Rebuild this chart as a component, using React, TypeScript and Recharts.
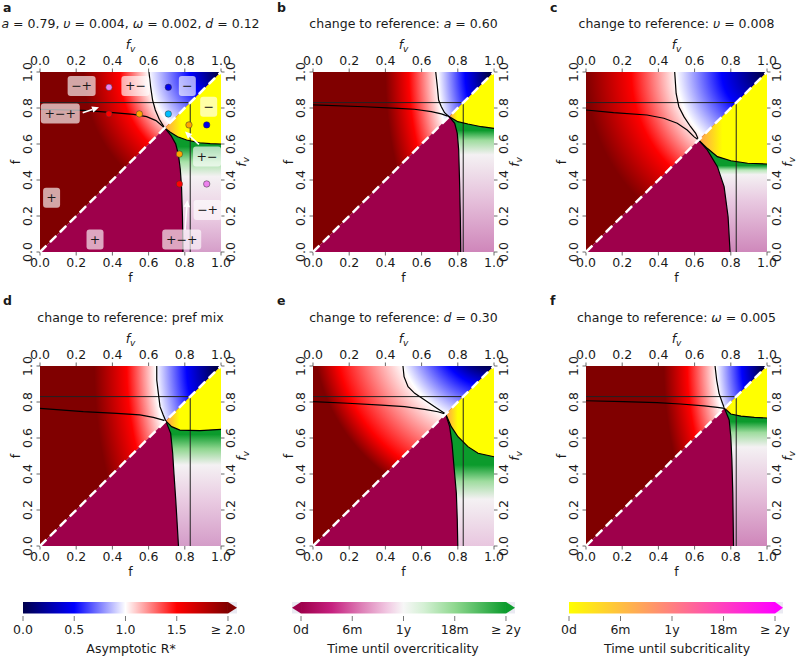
import React from 'react';
import { ComposedChart, ReferenceArea, Scatter, XAxis, YAxis } from 'recharts';

type Pt = { x: number; y: number };

// shared axis values
const axisTicks = [0, 0.2, 0.4, 0.6, 0.8, 1.0];
const refLevel = 0.83;

// contour lines (all start or end at the junction on the diagonal)
// upper*: R* = 1 line, side*: line from the left edge, sub*: lower edge of the
// subcritical (yellow) zone, over*: edge of the overcritical (magenta) zone
const upperA: Pt[] = [{ x: 0.602, y: 1 }, { x: 0.611, y: 0.919 }, { x: 0.622, y: 0.844 }, { x: 0.637, y: 0.789 }, { x: 0.659, y: 0.737 }, { x: 0.689, y: 0.689 }];
const sideA: Pt[] = [{ x: 0, y: 0.793 }, { x: 0.239, y: 0.787 }, { x: 0.387, y: 0.776 }, { x: 0.516, y: 0.765 }, { x: 0.589, y: 0.752 }, { x: 0.641, y: 0.73 }, { x: 0.689, y: 0.689 }];
const subA: Pt[] = [{ x: 0.689, y: 0.689 }, { x: 0.72, y: 0.665 }, { x: 0.76, y: 0.64 }, { x: 0.81, y: 0.622 }, { x: 0.88, y: 0.607 }, { x: 0.94, y: 0.602 }, { x: 1, y: 0.6 }];
const overA: Pt[] = [{ x: 0.689, y: 0.689 }, { x: 0.725, y: 0.645 }, { x: 0.75, y: 0.6 }, { x: 0.765, y: 0.54 }, { x: 0.775, y: 0.46 }, { x: 0.782, y: 0.36 }, { x: 0.787, y: 0.2 }, { x: 0.79, y: 0 }];

const upperB: Pt[] = [{ x: 0.678, y: 1 }, { x: 0.687, y: 0.918 }, { x: 0.694, y: 0.844 }, { x: 0.709, y: 0.807 }, { x: 0.727, y: 0.774 }, { x: 0.752, y: 0.752 }];
const sideB: Pt[] = [{ x: 0, y: 0.817 }, { x: 0.285, y: 0.807 }, { x: 0.47, y: 0.798 }, { x: 0.56, y: 0.793 }, { x: 0.654, y: 0.78 }, { x: 0.709, y: 0.767 }, { x: 0.752, y: 0.752 }];
const subB: Pt[] = [{ x: 0.752, y: 0.752 }, { x: 0.8, y: 0.724 }, { x: 0.856, y: 0.711 }, { x: 0.93, y: 0.696 }, { x: 1, y: 0.687 }];
const overB: Pt[] = [{ x: 0.752, y: 0.752 }, { x: 0.783, y: 0.715 }, { x: 0.797, y: 0.659 }, { x: 0.805, y: 0.567 }, { x: 0.81, y: 0.381 }, { x: 0.814, y: 0.19 }, { x: 0.816, y: 0 }];

const upperC: Pt[] = [{ x: 0.49, y: 1 }, { x: 0.498, y: 0.881 }, { x: 0.513, y: 0.807 }, { x: 0.541, y: 0.752 }, { x: 0.578, y: 0.696 }, { x: 0.606, y: 0.659 }, { x: 0.622, y: 0.622 }];
const sideC: Pt[] = [{ x: 0, y: 0.789 }, { x: 0.152, y: 0.774 }, { x: 0.337, y: 0.761 }, { x: 0.43, y: 0.743 }, { x: 0.504, y: 0.715 }, { x: 0.559, y: 0.678 }, { x: 0.596, y: 0.641 }, { x: 0.622, y: 0.622 }];
const subC: Pt[] = [{ x: 0.622, y: 0.622 }, { x: 0.67, y: 0.576 }, { x: 0.726, y: 0.53 }, { x: 0.8, y: 0.507 }, { x: 0.893, y: 0.493 }, { x: 1, y: 0.489 }];
const overC: Pt[] = [{ x: 0.622, y: 0.622 }, { x: 0.67, y: 0.567 }, { x: 0.726, y: 0.474 }, { x: 0.763, y: 0.363 }, { x: 0.785, y: 0.196 }, { x: 0.796, y: 0 }];

const upperD: Pt[] = [{ x: 0.645, y: 1 }, { x: 0.645, y: 0.922 }, { x: 0.654, y: 0.848 }, { x: 0.663, y: 0.774 }, { x: 0.681, y: 0.728 }, { x: 0.695, y: 0.695 }];
const sideD: Pt[] = [{ x: 0, y: 0.765 }, { x: 0.239, y: 0.746 }, { x: 0.424, y: 0.737 }, { x: 0.552, y: 0.728 }, { x: 0.626, y: 0.715 }, { x: 0.695, y: 0.695 }];
const subD: Pt[] = [{ x: 0.695, y: 0.695 }, { x: 0.727, y: 0.663 }, { x: 0.773, y: 0.644 }, { x: 0.884, y: 0.641 }, { x: 1, y: 0.648 }];
const overD: Pt[] = [{ x: 0.695, y: 0.695 }, { x: 0.722, y: 0.626 }, { x: 0.733, y: 0.515 }, { x: 0.74, y: 0.404 }, { x: 0.75, y: 0.256 }, { x: 0.758, y: 0.12 }, { x: 0.765, y: 0 }];

const upperE: Pt[] = [{ x: 0.497, y: 1 }, { x: 0.503, y: 0.941 }, { x: 0.525, y: 0.885 }, { x: 0.562, y: 0.848 }, { x: 0.617, y: 0.811 }, { x: 0.672, y: 0.774 }, { x: 0.733, y: 0.733 }];
const sideE: Pt[] = [{ x: 0, y: 0.802 }, { x: 0.193, y: 0.793 }, { x: 0.378, y: 0.783 }, { x: 0.506, y: 0.774 }, { x: 0.617, y: 0.759 }, { x: 0.69, y: 0.746 }, { x: 0.733, y: 0.733 }];
const subE: Pt[] = [{ x: 0.733, y: 0.733 }, { x: 0.764, y: 0.663 }, { x: 0.801, y: 0.607 }, { x: 0.856, y: 0.552 }, { x: 0.912, y: 0.515 }, { x: 1, y: 0.496 }];
const overE: Pt[] = [{ x: 0.733, y: 0.733 }, { x: 0.755, y: 0.663 }, { x: 0.768, y: 0.57 }, { x: 0.779, y: 0.441 }, { x: 0.792, y: 0.293 }, { x: 0.797, y: 0.15 }, { x: 0.8, y: 0 }];

const upperF: Pt[] = [{ x: 0.713, y: 1 }, { x: 0.722, y: 0.922 }, { x: 0.735, y: 0.848 }, { x: 0.754, y: 0.793 }, { x: 0.765, y: 0.765 }];
const sideF: Pt[] = [{ x: 0, y: 0.807 }, { x: 0.207, y: 0.802 }, { x: 0.393, y: 0.796 }, { x: 0.522, y: 0.789 }, { x: 0.652, y: 0.778 }, { x: 0.726, y: 0.77 }, { x: 0.765, y: 0.765 }];
const subF: Pt[] = [{ x: 0.765, y: 0.765 }, { x: 0.8, y: 0.733 }, { x: 0.856, y: 0.722 }, { x: 0.93, y: 0.715 }, { x: 1, y: 0.711 }];
const overF: Pt[] = [{ x: 0.765, y: 0.765 }, { x: 0.791, y: 0.7 }, { x: 0.8, y: 0.607 }, { x: 0.806, y: 0.478 }, { x: 0.811, y: 0.293 }, { x: 0.815, y: 0 }];

// example points in panel a, one list per colour
const exampleViolet: Pt[] = [{ x: 0.381, y: 0.915 }, { x: 0.921, y: 0.378 }];
const exampleBlue: Pt[] = [{ x: 0.709, y: 0.915 }, { x: 0.921, y: 0.706 }];
const exampleRed: Pt[] = [{ x: 0.381, y: 0.767 }, { x: 0.77, y: 0.378 }];
const exampleOrange: Pt[] = [{ x: 0.549, y: 0.767 }, { x: 0.823, y: 0.706 }, { x: 0.77, y: 0.544 }];
const exampleSky: Pt[] = [{ x: 0.709, y: 0.767 }];

// sign pattern labels in panel a
const signLabels = [
  { x: 0.23, y: 0.922, t: '−+' },
  { x: 0.527, y: 0.922, t: '+−' },
  { x: 0.814, y: 0.922, t: '−' },
  { x: 0.112, y: 0.77, t: '+−+' },
  { x: 0.932, y: 0.807, t: '−' },
  { x: 0.923, y: 0.53, t: '+−' },
  { x: 0.064, y: 0.302, t: '+' },
  { x: 0.304, y: 0.07, t: '+' },
  { x: 0.926, y: 0.233, t: '−+' },
  { x: 0.783, y: 0.07, t: '+−+' },
];

// arrows in panel a: [tail, head]
const arrowsA: Pt[][] = [
  [{ x: 0.236, y: 0.774 }, { x: 0.326, y: 0.804 }],
  [{ x: 0.878, y: 0.598 }, { x: 0.801, y: 0.669 }],
  [{ x: 0.801, y: 0.122 }, { x: 0.814, y: 0.289 }],
];

// colorbars
const rTicks = [0, 0.5, 1, 1.5, 2];
const rLabels = ['0.0', '0.5', '1.0', '1.5', '≥ 2.0'];
const timeTicks = [0, 1, 2, 3, 4];
const timeLabels = ['0d', '6m', '1y', '18m', '≥ 2y'];

// ---------------------------------------------------------------------------

const FONT = '"DejaVu Sans", Verdana, sans-serif';
const INK = '#1a1a1a';
const PW = 181;
const PH = 180;
const AX = 45;
const MAGENTA = '#9e004b';
const GREEN = '#0b9b2c';
const SEISMIC = ['#00004c', '#0000ff', '#ffffff', '#ff0000', '#800000'];
const textStyle = { fontFamily: FONT, fontSize: 12.5, fill: INK };

type Look = {
  cx: number; cy: number; sx: number; sy: number;
  r: number[];
  green: [number, string][];
  orange: number;
};

const looks: Record<string, Look> = {
  a: { cx: 1, cy: 1, sx: 1, sy: 1, r: [0.02, 0.17, 0.4, 0.56, 0.76], orange: 0.3,
    green: [[0.585, GREEN], [0.5, '#a8e2a8'], [0.42, '#f4f1f3'], [0.2, '#ebcde3'], [0, '#d59ec9']] },
  b: { cx: 1, cy: 1, sx: 1, sy: 2, r: [0.03, 0.16, 0.31, 0.47, 0.6], orange: 0.18,
    green: [[0.675, GREEN], [0.62, '#9edc9e'], [0.54, '#f4f1f3'], [0.3, '#e6c2dc'], [0, '#cf86ba']] },
  c: { cx: 1, cy: 1, sx: 1, sy: 1, r: [0.02, 0.25, 0.5, 0.75, 1.15], orange: 0.35,
    green: [[0.48, GREEN], [0.455, '#b8e8b8'], [0.43, '#f4f1f3'], [0.28, '#e8c8e0'], [0, '#cf88bb']] },
  d: { cx: 1, cy: 1, sx: 1, sy: 2, r: [0.03, 0.19, 0.36, 0.52, 0.7], orange: 0.25,
    green: [[0.62, GREEN], [0.54, '#8fd68f'], [0.45, '#f4f1f3'], [0.25, '#e9cae1'], [0, '#d49cc8']] },
  e: { cx: 1, cy: 1.2, sx: 1, sy: 1, r: [0.2, 0.32, 0.54, 0.88, 1.3], orange: 0.25,
    green: [[0.45, GREEN], [0.36, '#9edc9e'], [0.26, '#f4f1f3'], [0, '#e8c6df']] },
  f: { cx: 1, cy: 1, sx: 1, sy: 2, r: [0.03, 0.14, 0.28, 0.44, 0.57], orange: 0.15,
    green: [[0.69, GREEN], [0.63, '#9edc9e'], [0.55, '#f4f1f3'], [0.3, '#e6c2dc'], [0, '#cf86ba']] },
};

const upperTri: Pt[] = [{ x: 0, y: 0 }, { x: 0, y: 1 }, { x: 1, y: 1 }];
const lowerTri: Pt[] = [{ x: 0, y: 0 }, { x: 1, y: 0 }, { x: 1, y: 1 }];
const diagonal: Pt[] = [{ x: 0, y: 0 }, { x: 1, y: 1 }];
const refH: Pt[] = [{ x: 0, y: refLevel }, { x: refLevel, y: refLevel }];
const refV: Pt[] = [{ x: refLevel, y: refLevel }, { x: refLevel, y: 0 }];
const titleAnchors = [{ x: 0.5, y: 0, k: 'b' }, { x: 0.5, y: 1, k: 't' }, { x: 0, y: 0.5, k: 'l' }, { x: 1, y: 0.5, k: 'r' }];

const noShape = () => <g />;

function region(key: string, pts: Pt[], fill: string) {
  return (
    <Scatter key={key} xAxisId="b" yAxisId="l" data={pts} fill="none" shape={noShape}
      line={{ fill, stroke: 'none' }} isAnimationActive={false} />
  );
}

function curve(key: string, pts: Pt[], stroke: string, width: number, dash?: string) {
  const line: any = { stroke, strokeWidth: width, fill: 'none' };
  if (dash) line.strokeDasharray = dash;
  return (
    <Scatter key={key} xAxisId="b" yAxisId="l" data={pts} fill="none" shape={noShape}
      line={line} isAnimationActive={false} />
  );
}

const dotShape = (color: string) => (p: any) => (
  <circle cx={p.cx} cy={p.cy} r={3.2} fill={color} stroke="#333" strokeWidth={0.5} />
);

const labelShape = (p: any) => {
  const t: string = p.payload.t;
  const w = 11 * t.length + 6;
  return (
    <g>
      <rect x={p.cx - w / 2} y={p.cy - 10} width={w} height={20} rx={3} fill="#fff" fillOpacity={0.65} />
      <text x={p.cx} y={p.cy + 4.3} textAnchor="middle" style={textStyle}>{t}</text>
    </g>
  );
};

const arrowLine = (p: any) => {
  const [a, b] = p.points;
  const ang = Math.atan2(b.y - a.y, b.x - a.x);
  const L = 7;
  const W = 3.2;
  const bx = b.x - L * Math.cos(ang);
  const by = b.y - L * Math.sin(ang);
  const nx = -Math.sin(ang) * W;
  const ny = Math.cos(ang) * W;
  return (
    <g>
      <line x1={a.x} y1={a.y} x2={bx} y2={by} stroke="#fff" strokeWidth={1.6} />
      <polygon points={`${b.x},${b.y} ${bx + nx},${by + ny} ${bx - nx},${by - ny}`} fill="#fff" />
    </g>
  );
};

const fv = (
  <>
    <tspan fontStyle="italic">f</tspan>
    <tspan fontStyle="italic" fontSize={9} dy={3}>v</tspan>
  </>
);

const axisTitle = (p: any) => {
  const k = p.payload.k;
  if (k === 'b') return <text x={p.cx} y={p.cy + 29.5} textAnchor="middle" style={textStyle}>f</text>;
  if (k === 't') return <text x={p.cx} y={p.cy - 23.5} textAnchor="middle" style={textStyle}>{fv}</text>;
  if (k === 'l')
    return <text transform={`translate(${p.cx - 25},${p.cy}) rotate(-90)`} y={4.7} textAnchor="middle" style={textStyle}>f</text>;
  return <text transform={`translate(${p.cx + 21},${p.cy}) rotate(-90)`} y={3.5} textAnchor="middle" style={textStyle}>{fv}</text>;
};

const BottomTick = (p: any) => (
  <text x={p.x} y={p.y + 11} textAnchor="middle" style={textStyle}>{Number(p.payload.value).toFixed(1)}</text>
);
const TopTick = (p: any) => (
  <text x={p.x} y={p.y - 4} textAnchor="middle" style={textStyle}>{Number(p.payload.value).toFixed(1)}</text>
);
const LeftTick = (p: any) => (
  <text transform={`translate(${p.x - 9},${p.y}) rotate(-90)`} y={4.5} textAnchor="middle" style={textStyle}>
    {Number(p.payload.value).toFixed(1)}
  </text>
);
const RightTick = (p: any) => (
  <text transform={`translate(${p.x + 5.5},${p.y}) rotate(-90)`} y={4.5} textAnchor="middle" style={textStyle}>
    {Number(p.payload.value).toFixed(1)}
  </text>
);

const tickLineStyle = { stroke: '#444', strokeWidth: 0.8 };

type PanelProps = {
  id: string; left: number; top: number;
  upper: Pt[]; side: Pt[]; sub: Pt[]; over: Pt[];
  annotated?: boolean;
};

function Panel({ id, left, top, upper, side, sub, over, annotated }: PanelProps) {
  const look = looks[id];
  const jy = over[0].y;
  const belowSub = [...over, { x: 1, y: 0 }, ...[...sub].reverse()];
  const subZone = [...sub, { x: 1, y: 1 }];
  const gcx = look.cx;
  const gcy = 1 - look.cy;
  return (
    <div style={{ position: 'absolute', left: left - AX, top: top - AX }}>
      <ComposedChart width={PW + 2 * AX} height={PH + 2 * AX} margin={{ top: 0, right: 0, bottom: 0, left: 0 }}>
        <defs>
          <radialGradient id={`rs-${id}`} cx={gcx} cy={gcy} r={1}
            gradientTransform={`translate(${gcx} ${gcy}) scale(${look.sx} ${look.sy}) translate(${-gcx} ${-gcy})`}>
            {look.r.map((o, i) => <stop key={i} offset={o} stopColor={SEISMIC[i]} />)}
          </radialGradient>
          <linearGradient id={`tg-${id}`} x1={0} y1={0} x2={0} y2={1}>
            {look.green.map(([yy, c], i) => <stop key={i} offset={Math.max(0, (jy - yy) / jy)} stopColor={c} />)}
          </linearGradient>
          <linearGradient id={`yl-${id}`} x1={0} y1={0} x2={1} y2={0}>
            <stop offset={0} stopColor="#ff9c50" />
            <stop offset={look.orange} stopColor="#ffff00" />
          </linearGradient>
        </defs>
        <XAxis xAxisId="b" type="number" dataKey="x" domain={[0, 1]} ticks={axisTicks} interval={0} height={AX}
          axisLine={false} tickSize={3.5} tickMargin={0} tickLine={tickLineStyle} tick={BottomTick} />
        <XAxis xAxisId="t" orientation="top" type="number" dataKey="x" domain={[0, 1]} ticks={axisTicks} interval={0}
          height={AX} axisLine={false} tickSize={3.5} tickMargin={0} tickLine={tickLineStyle} tick={TopTick} />
        <YAxis yAxisId="l" type="number" dataKey="y" domain={[0, 1]} ticks={axisTicks} interval={0} width={AX}
          axisLine={false} tickSize={3.5} tickMargin={0} tickLine={tickLineStyle} tick={LeftTick} />
        <YAxis yAxisId="r" orientation="right" type="number" dataKey="y" domain={[0, 1]} ticks={axisTicks} interval={0}
          width={AX} axisLine={false} tickSize={3.5} tickMargin={0} tickLine={tickLineStyle} tick={RightTick} />

        {region('up', upperTri, `url(#rs-${id})`)}
        {region('lo', lowerTri, MAGENTA)}
        {region('ov', belowSub, `url(#tg-${id})`)}
        {region('sb', subZone, `url(#yl-${id})`)}
        {curve('rh', refH, '#222', 1)}
        {curve('rv', refV, '#222', 1)}
        {curve('c1', upper, '#000', 1.2)}
        {curve('c2', side, '#000', 1.2)}
        {curve('c3', sub, '#000', 1.2)}
        {curve('c4', over, '#000', 1.2)}
        {curve('dg', diagonal, '#fff', 2.5, '9 5')}

        {annotated &&
          arrowsA.map((ar, i) => (
            <Scatter key={`ar${i}`} xAxisId="b" yAxisId="l" data={ar} fill="none" shape={noShape}
              line={arrowLine} isAnimationActive={false} />
          ))}
        {annotated && (
          <Scatter key="dv" xAxisId="b" yAxisId="l" data={exampleViolet} shape={dotShape('#ee82ee')} isAnimationActive={false} />
        )}
        {annotated && (
          <Scatter key="db" xAxisId="b" yAxisId="l" data={exampleBlue} shape={dotShape('#0000ee')} isAnimationActive={false} />
        )}
        {annotated && (
          <Scatter key="dr" xAxisId="b" yAxisId="l" data={exampleRed} shape={dotShape('#ff0000')} isAnimationActive={false} />
        )}
        {annotated && (
          <Scatter key="do" xAxisId="b" yAxisId="l" data={exampleOrange} shape={dotShape('#ffa500')} isAnimationActive={false} />
        )}
        {annotated && (
          <Scatter key="ds" xAxisId="b" yAxisId="l" data={exampleSky} shape={dotShape('#00bfff')} isAnimationActive={false} />
        )}
        {annotated && (
          <Scatter key="lb" xAxisId="b" yAxisId="l" data={signLabels} shape={labelShape} isAnimationActive={false} />
        )}

        <Scatter xAxisId="b" yAxisId="l" data={titleAnchors} shape={axisTitle} isAnimationActive={false} />
        <Scatter xAxisId="t" yAxisId="r" data={diagonal} fill="none" shape={noShape} isAnimationActive={false} />
      </ComposedChart>
    </div>
  );
}

const cbTick = (labels: string[]) => (p: any) => (
  <g>
    <line x1={p.x} x2={p.x} y1={p.y + 2.5} y2={p.y + 7.5} stroke="#555" strokeWidth={0.8} />
    <text x={p.x} y={p.y + 20.5} textAnchor="middle" style={textStyle}>{labels[p.index]}</text>
  </g>
);

type BarProps = {
  id: string; left: number; width: number; domain: [number, number];
  ticks: number[]; labels: string[]; stops: [number, string][];
  lowColor?: string; highColor?: string;
};

const CB_PAD = 22;

function ColorBar({ id, left, width, domain, ticks, labels, stops, lowColor, highColor }: BarProps) {
  const lo = ticks[0];
  const hi = ticks[ticks.length - 1];
  const lowTip: Pt[] = [{ x: lo, y: 0 }, { x: domain[0], y: 0.5 }, { x: lo, y: 1 }];
  const highTip: Pt[] = [{ x: hi, y: 0 }, { x: domain[1], y: 0.5 }, { x: hi, y: 1 }];
  return (
    <div style={{ position: 'absolute', left: left - CB_PAD, top: 602 }}>
      <ComposedChart width={width + 2 * CB_PAD} height={41.5} margin={{ top: 0, right: CB_PAD, bottom: 0, left: CB_PAD }}>
        <defs>
          <linearGradient id={id} x1={0} y1={0} x2={1} y2={0}>
            {stops.map(([o, c], i) => <stop key={i} offset={o} stopColor={c} />)}
          </linearGradient>
        </defs>
        <XAxis xAxisId="c" type="number" dataKey="x" domain={domain} ticks={ticks} interval={0} height={30}
          axisLine={false} tickLine={false} tickSize={0} tickMargin={0} tick={cbTick(labels)} />
        <YAxis yAxisId="c" type="number" dataKey="y" domain={[0, 1]} hide />
        {lowColor && (
          <ReferenceArea xAxisId="c" yAxisId="c" x1={domain[0]} x2={lo} y1={0} y2={1} fill="#eaeaf2" fillOpacity={1} stroke="none" />
        )}
        {highColor && (
          <ReferenceArea xAxisId="c" yAxisId="c" x1={hi} x2={domain[1]} y1={0} y2={1} fill="#eaeaf2" fillOpacity={1} stroke="none" />
        )}
        <ReferenceArea xAxisId="c" yAxisId="c" x1={lo} x2={hi} y1={0} y2={1} fill={`url(#${id})`} fillOpacity={1} stroke="none" />
        {lowColor && (
          <Scatter xAxisId="c" yAxisId="c" data={lowTip} fill="none" shape={noShape}
            line={{ fill: lowColor, stroke: 'none' }} isAnimationActive={false} />
        )}
        {highColor && (
          <Scatter xAxisId="c" yAxisId="c" data={highTip} fill="none" shape={noShape}
            line={{ fill: highColor, stroke: 'none' }} isAnimationActive={false} />
        )}
      </ComposedChart>
    </div>
  );
}

const it = (s: string) => <tspan fontStyle="italic">{s}</tspan>;

export default function App() {
  const rowTop = [72, 366];
  const colLeft = [40, 313, 586];
  const titleBase = [27.5, 321.5];
  const letterBase = [11.5, 305];
  const letterX = [3, 277, 550];
  const titles = [
    <>{it('a')}{' = 0.79, '}{it('υ')}{' = 0.004, '}{it('ω')}{' = 0.002, '}{it('d')}{' = 0.12'}</>,
    <>{'change to reference: '}{it('a')}{' = 0.60'}</>,
    <>{'change to reference: '}{it('υ')}{' = 0.008'}</>,
    <>{'change to reference: pref mix'}</>,
    <>{'change to reference: '}{it('d')}{' = 0.30'}</>,
    <>{'change to reference: '}{it('ω')}{' = 0.005'}</>,
  ];
  const letters = ['a', 'b', 'c', 'd', 'e', 'f'];
  const sets = [
    [upperA, sideA, subA, overA],
    [upperB, sideB, subB, overB],
    [upperC, sideC, subC, overC],
    [upperD, sideD, subD, overD],
    [upperE, sideE, subE, overE],
    [upperF, sideF, subF, overF],
  ];

  return (
    <div style={{ position: 'absolute', left: 0, top: 0, width: 798, height: 656, overflow: 'hidden', background: '#fff' }}>
      {sets.map((s, i) => (
        <Panel key={letters[i]} id={letters[i]} left={colLeft[i % 3]} top={rowTop[Math.floor(i / 3)]}
          upper={s[0]} side={s[1]} sub={s[2]} over={s[3]} annotated={i === 0} />
      ))}

      <ColorBar id="cb-r" left={23} width={214} domain={[0, 2.088]} ticks={rTicks} labels={rLabels}
        stops={[[0, SEISMIC[0]], [0.25, SEISMIC[1]], [0.5, SEISMIC[2]], [0.75, SEISMIC[3]], [1, SEISMIC[4]]]}
        highColor="#800000" />
      <ColorBar id="cb-o" left={292} width={223} domain={[-0.176, 4.176]} ticks={timeTicks} labels={timeLabels}
        stops={[[0, MAGENTA], [0.15, '#c6207f'], [0.3, '#de82b8'], [0.42, '#f1c8e2'], [0.5, '#f7f7f7'],
          [0.6, '#d4f0d4'], [0.75, '#8fd88f'], [1, GREEN]]}
        lowColor={MAGENTA} highColor={GREEN} />
      <ColorBar id="cb-s" left={569} width={214} domain={[0, 4.155]} ticks={timeTicks} labels={timeLabels}
        stops={[[0, '#ffff00'], [1, '#ff00ff']]} highColor="#ff00ff" />

      <svg width={798} height={656} style={{ position: 'absolute', left: 0, top: 0, pointerEvents: 'none' }}>
        {letters.map((l, i) => (
          <text key={`l${l}`} x={letterX[i % 3]} y={letterBase[Math.floor(i / 3)]}
            style={{ ...textStyle, fontWeight: 'bold' }}>{l}</text>
        ))}
        {titles.map((t, i) => (
          <text key={`t${i}`} x={colLeft[i % 3] + PW / 2} y={titleBase[Math.floor(i / 3)]} textAnchor="middle" style={textStyle}>
            {t}
          </text>
        ))}
        <text x={131} y={652.5} textAnchor="middle" style={textStyle}>Asymptotic R*</text>
        <text x={403} y={652.5} textAnchor="middle" style={textStyle}>Time until overcriticality</text>
        <text x={677} y={652.5} textAnchor="middle" style={textStyle}>Time until subcriticality</text>
      </svg>
    </div>
  );
}
